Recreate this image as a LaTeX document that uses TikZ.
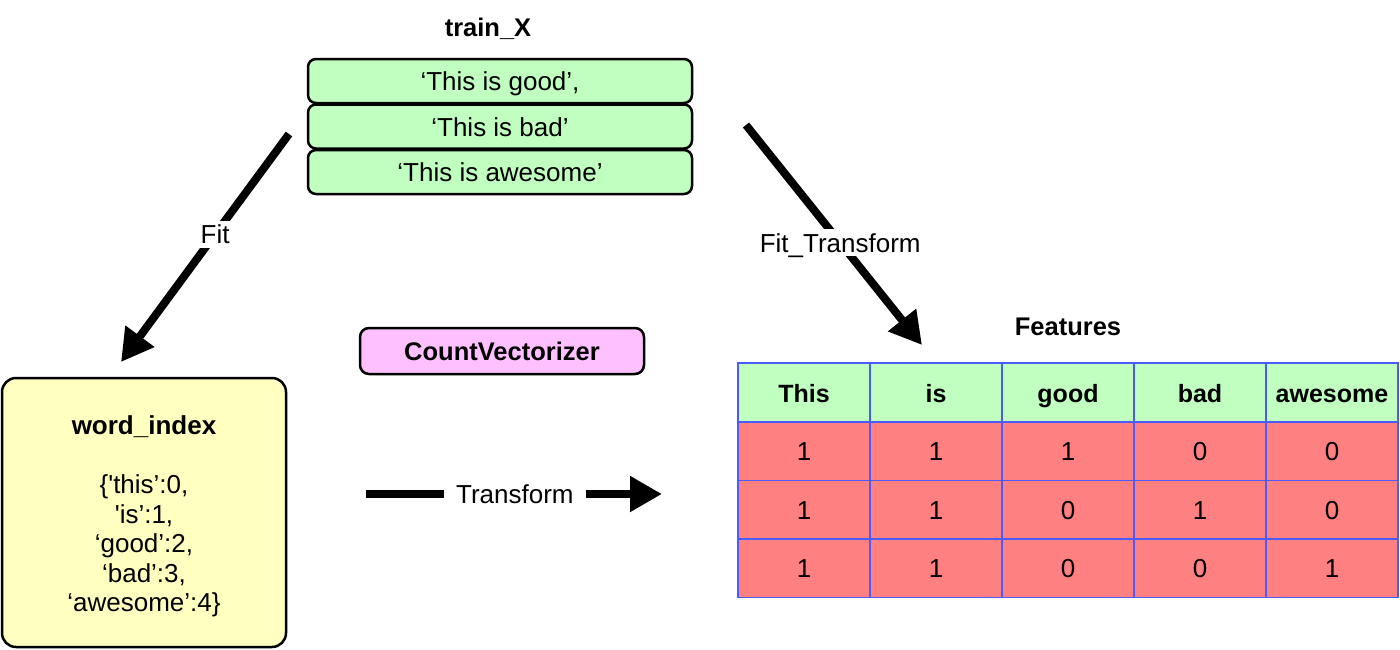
\documentclass[tikz,border=0pt]{standalone}
\usepackage{fontspec}
\setmainfont{Liberation Sans}
\usetikzlibrary{arrows.meta}
\definecolor{boxgreen}{HTML}{C0FFC0}
\definecolor{boxpink}{HTML}{FFC0FF}
\definecolor{boxyellow}{HTML}{FFFFC0}
\definecolor{cellred}{HTML}{FF8080}
\definecolor{gridblue}{HTML}{4A5CFF}
\begin{document}
\begin{tikzpicture}[x=1pt,y=-1pt,
  font=\fontsize{26}{29.5}\selectfont,
  every node/.style={text height=19pt, text depth=0pt},
  sentence/.style={draw=black, line width=2.5pt, rounded corners=8pt, fill=boxgreen,
    minimum width=384pt, minimum height=44pt, inner sep=0pt},
  cvbox/.style={draw=black, line width=2.5pt, rounded corners=9pt, fill=boxpink,
    minimum width=284pt, minimum height=46pt, inner sep=0pt, font=\fontsize{25.5}{29}\selectfont\bfseries},
  wibox/.style={draw=black, line width=2.5pt, rounded corners=14pt, fill=boxyellow,
    minimum width=284pt, minimum height=269pt, inner sep=0pt, align=center,
    text height=, text depth=},
  headcell/.style={draw=gridblue, line width=1.5pt, fill=boxgreen, minimum width=132pt,
    minimum height=59pt, inner sep=0pt, font=\fontsize{25}{29}\selectfont\bfseries},
  datacell/.style={draw=gridblue, line width=1.5pt, fill=cellred, minimum width=132pt,
    minimum height=58.5pt, inner sep=0pt},
  title/.style={font=\fontsize{25.5}{29}\selectfont\bfseries, inner sep=0pt},
  bigarrow/.style={line width=8pt, -{Triangle[length=32pt,width=34pt]}},
  arrowlabel/.style={fill=white, inner sep=4pt}
]
\useasboundingbox (0,0) rectangle (1400,649);

% train_X
\node[title] (trainx) at (488,27) {train\_X};
\node[sentence] (s1) at (500,81) {‘This is good’,};
\node[sentence] (s2) at (500,126.5) {‘This is bad’};
\node[sentence] (s3) at (500,172) {‘This is awesome’};

% CountVectorizer
\node[cvbox] (cv) at (502,351) {CountVectorizer};

% word_index
\node[wibox] (wi) at (144,512.5) {\rule{0pt}{27pt}\textbf{word\_index}\\[29.5pt]
  \{\textquotesingle this’:0,\\
  \textquotesingle is’:1,\\
  ‘good’:2,\\
  ‘bad’:3,\\
  ‘awesome’:4\}};

% Features table
\node[title] (feat) at (1068,326) {Features};
\foreach \w [count=\i from 0] in {This,is,good,bad,awesome}{
  \node[headcell] (h\i) at ({804+132*\i},392.5) {\w};
}
\foreach \r/\yy [count=\j from 1] in {{1,1,1,0,0}/451, {1,1,0,1,0}/509.5, {1,1,0,0,1}/568}{
  \foreach \v [count=\i from 0] in \r {
    \node[datacell] (c\j\i) at ({804+132*\i},\yy) {\v};
  }
}

% arrows
\coordinate (fitS) at (289,134);
\coordinate (fitE) at (121,362);
\draw[bigarrow] (fitS) -- (fitE) node[arrowlabel, pos=0.44] (fitlab) {Fit};

\coordinate (ftS) at (746,125);
\coordinate (ftE) at (922,345);
\draw[bigarrow] (ftS) -- (ftE) node[arrowlabel, pos=0.535] (ftlab) {Fit\_Transform};

\coordinate (trS) at (366,494);
\coordinate (trE) at (662,494);
\draw[bigarrow] (trS) -- (trE) node[arrowlabel, inner xsep=12pt, pos=0.503] (trlab) {Transform};
\end{tikzpicture}
\end{document}
